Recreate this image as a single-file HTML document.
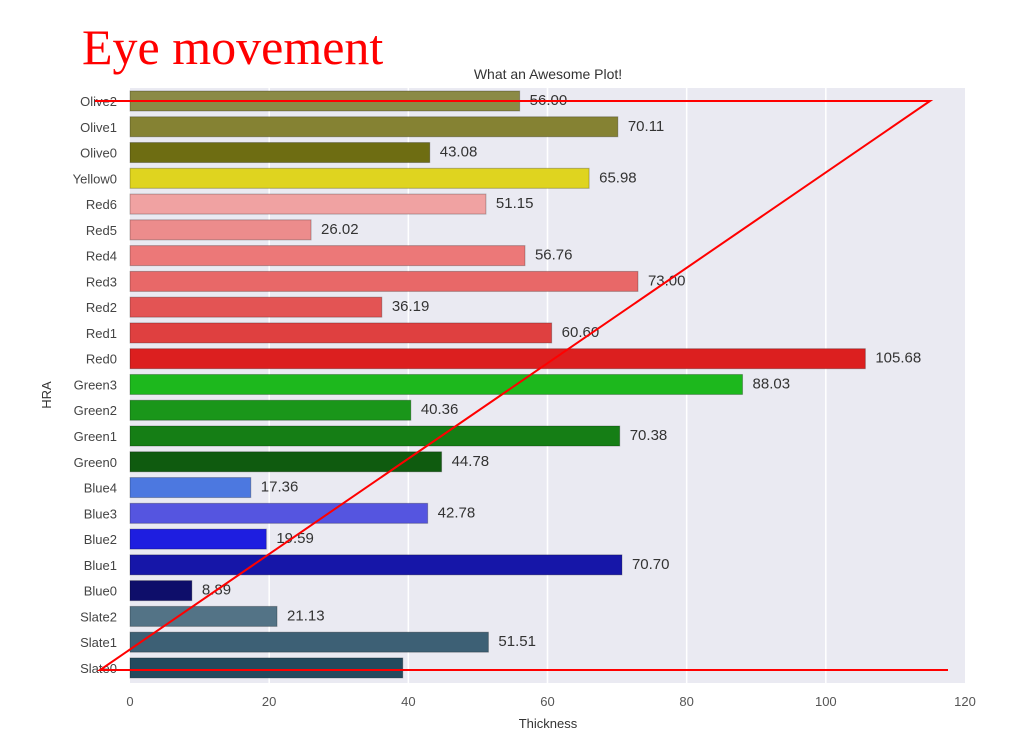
<!DOCTYPE html>
<html><head><meta charset="utf-8"><style>
body{margin:0;background:#fff;width:1020px;height:747px;overflow:hidden}
svg text{font-family:"Liberation Sans",sans-serif}
</style></head><body>
<svg id="c" width="1020" height="747">
<rect x="130" y="88" width="835" height="595" fill="#eaeaf2"/>
<g id="grid"></g><g id="bars"></g><g id="labels"></g><g id="ticks"></g>
<text x="548" y="79" text-anchor="middle" font-size="14" fill="#333">What an Awesome Plot!</text>
<text x="548" y="728" text-anchor="middle" font-size="13" fill="#333">Thickness</text>
<text x="51" y="395" text-anchor="middle" font-size="13" fill="#333" transform="rotate(-90 51 395)">HRA</text>
<text x="82" y="64" font-size="50" fill="#f00" style="font-family:'Liberation Serif',serif">Eye movement</text>
<polyline points="95,101 930,101 100,670 948,670" fill="none" stroke="#f00" stroke-width="2"/>
</svg>
<script>
const categories=["Olive2","Olive1","Olive0","Yellow0","Red6","Red5","Red4","Red3","Red2","Red1","Red0","Green3","Green2","Green1","Green0","Blue4","Blue3","Blue2","Blue1","Blue0","Slate2","Slate1","Slate0"];
const values=[56.00,70.11,43.08,65.98,51.15,26.02,56.76,73.00,36.19,60.60,105.68,88.03,40.36,70.38,44.78,17.36,42.78,19.59,70.70,8.89,21.13,51.51,39.2];
const valueLabels=["56.00","70.11","43.08","65.98","51.15","26.02","56.76","73.00","36.19","60.60","105.68","88.03","40.36","70.38","44.78","17.36","42.78","19.59","70.70","8.89","21.13","51.51",""];
const colors=["#8b8a45","#858233","#6e6d12","#dfd41f","#f0a2a2","#ec8c8c","#ec7878","#e86868","#e35454","#df4040","#dc1f1f","#1db81d","#1a961a","#157e15","#0f5b0f","#4c78e0","#5555e0","#1e1ee0","#1616a8","#0e0e6a","#537386","#3d6075","#244a5e"];
const xTicks=[0,20,40,60,80,100,120];
const NS="http://www.w3.org/2000/svg";
const x=v=>130+v*(835/120);
const y=i=>101+i*25.77;
function mk(t,a,p){const e=document.createElementNS(NS,t);for(const k in a)e.setAttribute(k,a[k]);document.getElementById(p).appendChild(e);return e;}
xTicks.forEach(t=>{
 if(t>0&&t<120){const g=mk('line',{x1:x(t),x2:x(t),y1:88,y2:683,stroke:'#fff','stroke-width':1.5},'grid');
 
 }
 const l=mk('text',{x:x(t),y:706,'text-anchor':'middle','font-size':13,fill:'#555'},'ticks');l.textContent=t;
 
 
});
categories.forEach((c,i)=>{
 const b=mk('rect',{x:130,y:y(i)-10,width:x(values[i])-130,height:20,fill:colors[i],stroke:'rgba(0,0,0,0.25)','stroke-width':1},'bars');
 
 
 const t=mk('text',{x:117,y:y(i)+5,'text-anchor':'end','font-size':13,fill:'#444'},'ticks');t.textContent=c;
 
 
 if(valueLabels[i]){const v=mk('text',{x:x(values[i])+10,y:y(i)+4,'font-size':15,fill:'#333'},'labels');v.textContent=valueLabels[i];
 
 }
});
</script>
</body></html>
